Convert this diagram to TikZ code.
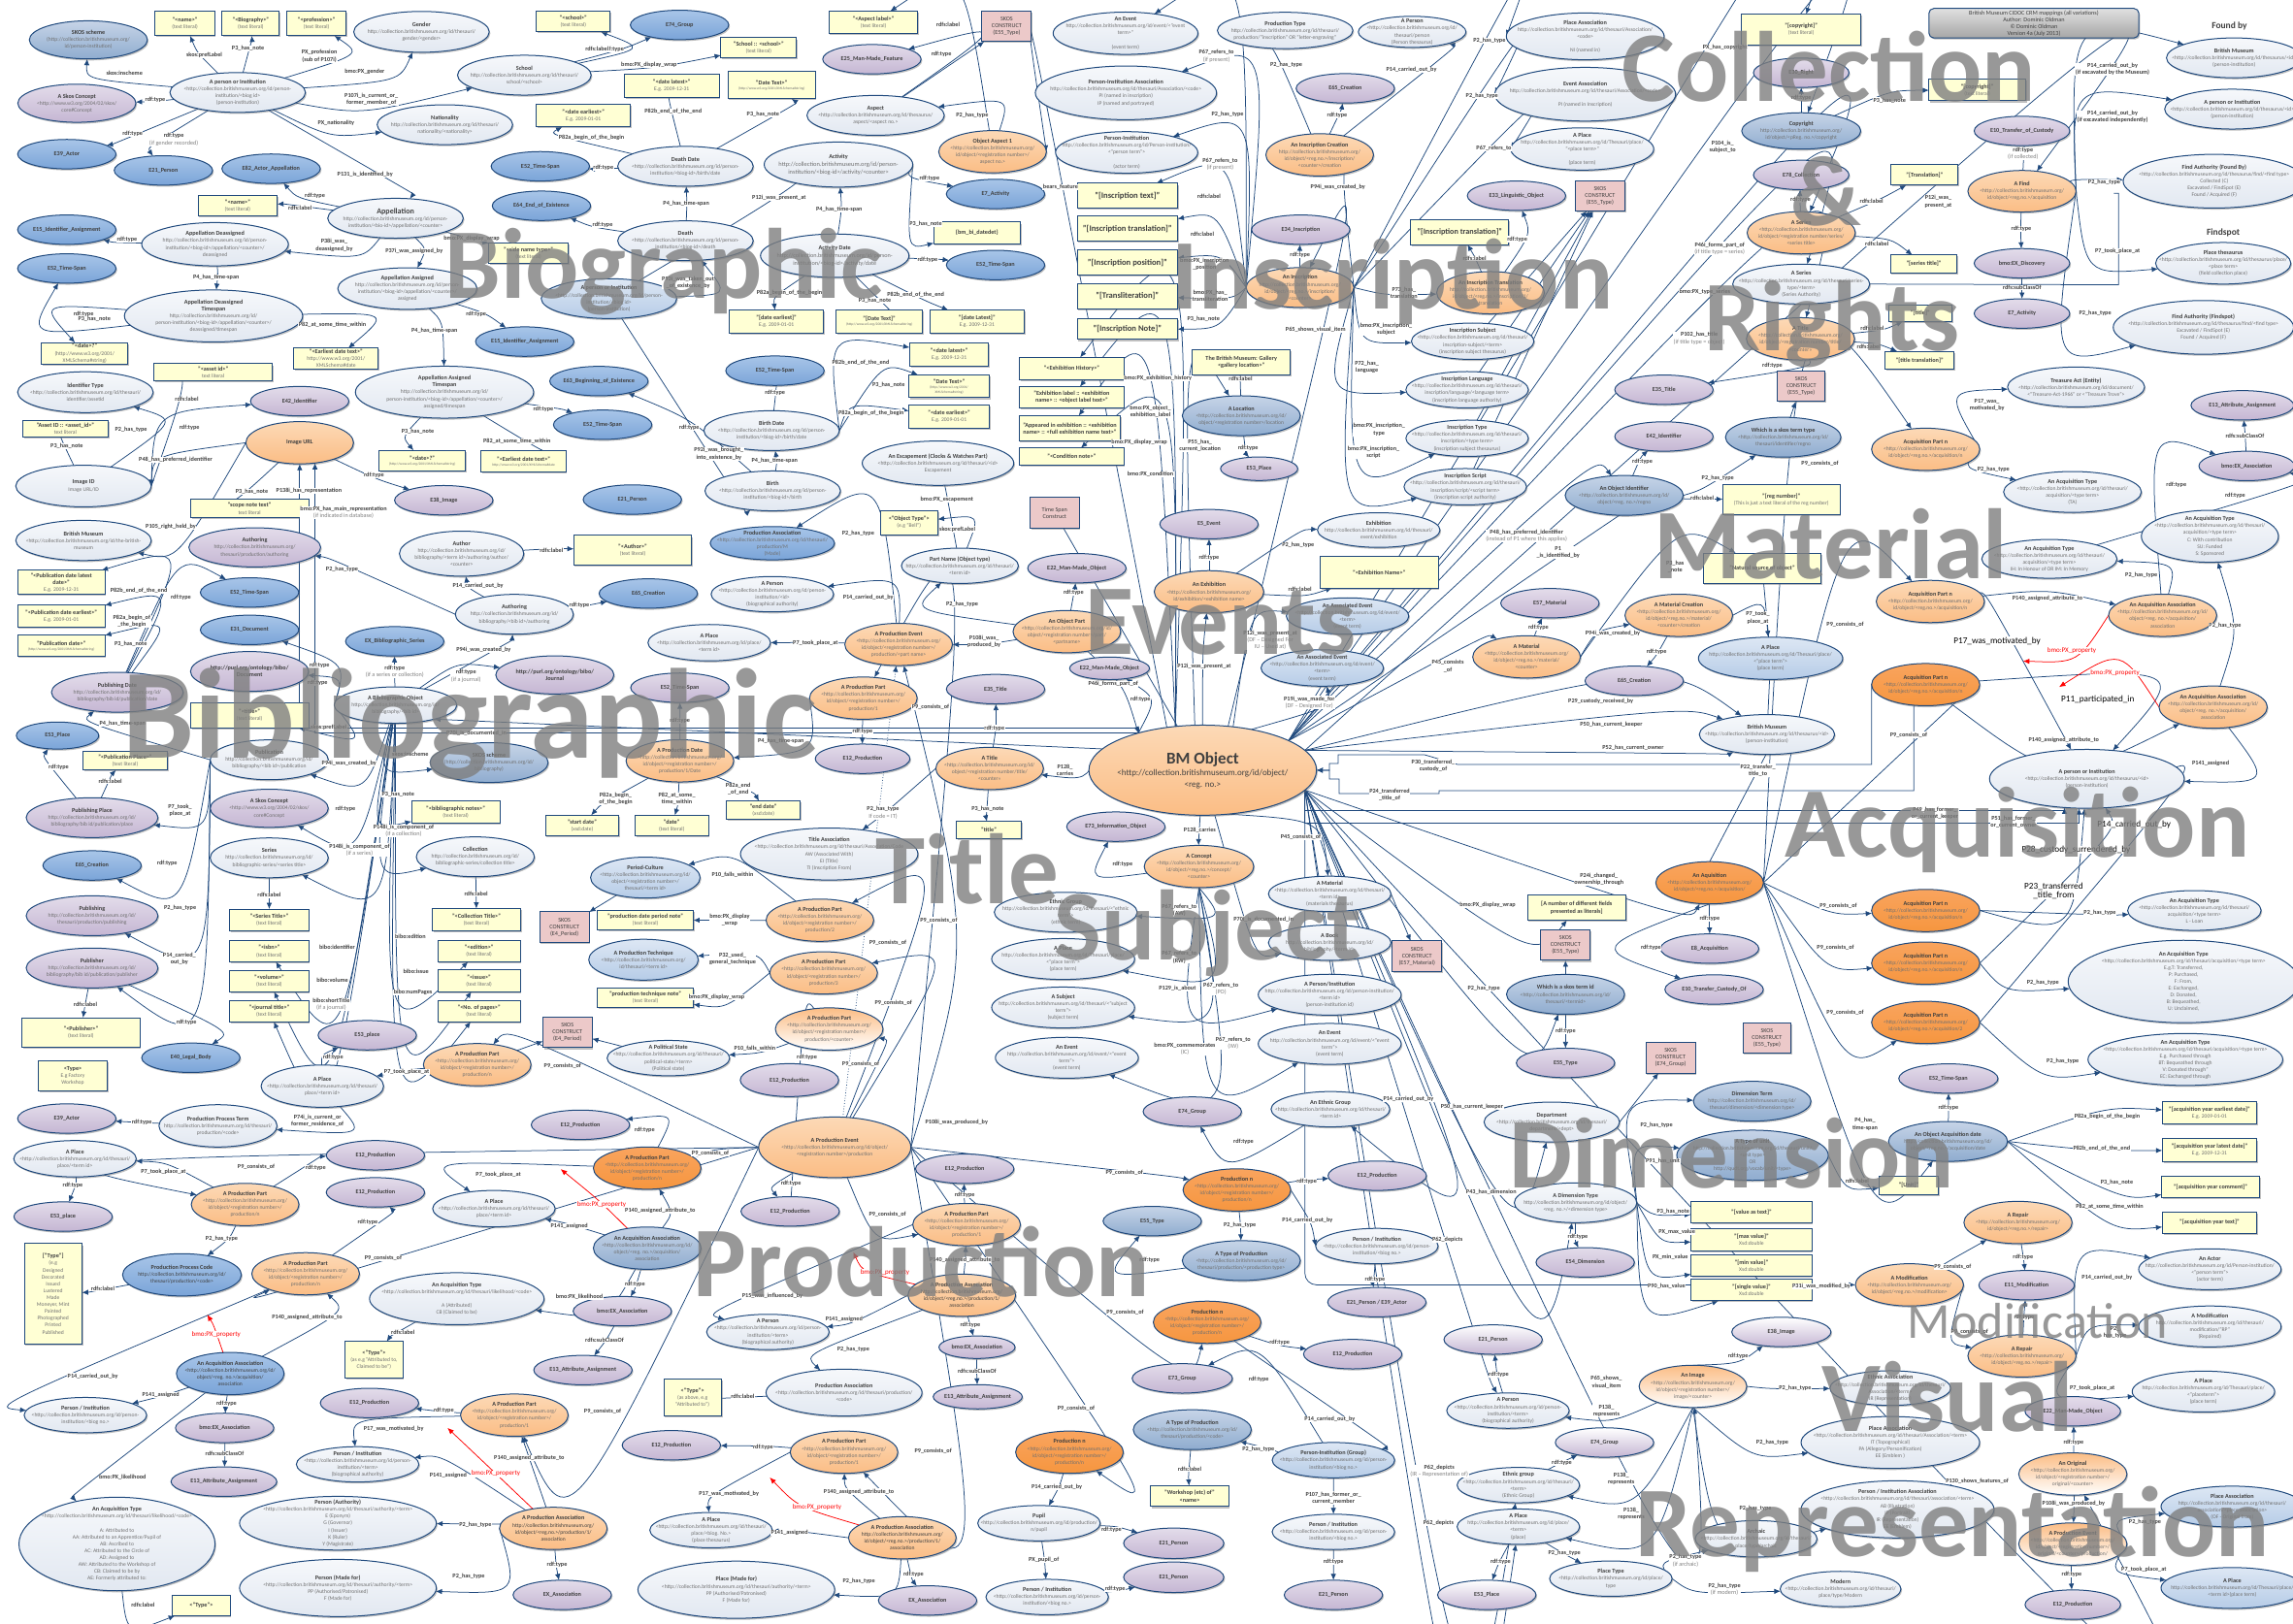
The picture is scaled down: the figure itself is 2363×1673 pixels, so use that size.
\documentclass[tikz,border=0pt]{standalone}
\usepackage{fontspec}
\setmainfont{Carlito}
\usetikzlibrary{shapes.geometric,arrows.meta,calc,shadows}
\definecolor{lc}{HTML}{1F497D}\definecolor{tt}{HTML}{404040}\definecolor{bt}{HTML}{707070}
\definecolor{wt}{HTML}{F6F8FB}\definecolor{wb}{HTML}{E2E8F1}
\definecolor{lbt}{HTML}{DDE7F4}\definecolor{lbb}{HTML}{B6CCE7}
\definecolor{blt}{HTML}{A8C5E8}\definecolor{blb}{HTML}{7AA4D8}
\definecolor{gbt}{HTML}{C6D4E7}\definecolor{gbb}{HTML}{8FACCF}
\definecolor{put}{HTML}{E3DCEA}\definecolor{pub}{HTML}{C5B6D3}
\definecolor{ort}{HTML}{FCD9B6}\definecolor{orb}{HTML}{FBBD85}
\definecolor{dot}{HTML}{F9A45E}\definecolor{dob}{HTML}{F6963F}
\definecolor{lyc}{HTML}{FFFFD4}\definecolor{pkc}{HTML}{ECC9C9}\definecolor{wmc}{HTML}{7F7F7F}
\pgfdeclarelayer{edges}\pgfdeclarelayer{wm}\pgfsetlayers{edges,main,wm}
\tikzset{
 nd/.style={draw=lc,line width=1pt,inner sep=0pt,outer sep=0pt,drop shadow={shadow xshift=1.2pt,shadow yshift=-1.6pt,opacity=.45,fill=black!55}},
 wh/.style={ellipse,top color=wt,bottom color=wb},
 lb/.style={ellipse,top color=lbt,bottom color=lbb},
 bl/.style={ellipse,top color=blt,bottom color=blb},
 gb/.style={ellipse,top color=gbt,bottom color=gbb},
 pu/.style={ellipse,top color=put,bottom color=pub},
 lp/.style={ellipse,top color=white,bottom color=pub},
 or/.style={ellipse,top color=ort,bottom color=orb},
 do/.style={ellipse,top color=dot,bottom color=dob},
 lo/.style={ellipse,top color=orb,bottom color=white},
 ly/.style={rectangle,fill=lyc},
 pk/.style={rectangle,fill=pkc},
 gy/.style={rectangle,rounded corners=5pt,top color=black!12,bottom color=black!35},
 txt/.style={inner sep=0pt},
 lab/.style={font=\fontsize{6.2}{7.2}\selectfont\bfseries,text=tt,fill=white,inner sep=.5pt,align=center},
 lnk/.style={draw=lc,line width=.75pt,-{Latex[length=6.5pt,width=5.5pt]}},
 rdl/.style={lnk,draw=red},
 wmk/.style={text=wmc,text opacity=.8,inner sep=0pt,anchor=base,font=\fontsize{103}{103}\selectfont\bfseries}
}
\newcount\lkc
\def\edgelist{}
\def\Ub{http://collection.britishmuseum.org/}
\def\Tf{\fontsize{6.2}{7.1}\selectfont\bfseries\color{tt}}
\def\Bf{\fontsize{5.6}{7.1}\selectfont\mdseries\color{bt}}
\newcommand\Nd[8]{\node[nd,#2,minimum width={#5/\kx*1pt},minimum height={#6/2.8*1pt}] (#1) at (#3,#4) {};
 \node[txt] (#1t) at (#1) {\parbox{500pt}{\centering\Tf #7\\\Bf #8}};}
\newcommand\Nc[7]{\node[nd,#2,minimum width={#5/\kx*1pt},minimum height={#6/2.8*1pt}] (#1) at (#3,#4) {};
 \node[txt] (#1t) at (#1) {\parbox{500pt}{\centering\Tf #7}};}
\newcommand\Cl[5]{\Nc{#1}{#2}{#3}{#4}{265}{85}{#5}}
\newcommand\Sk[4]{\Nd{#1}{pk}{#2}{#3}{133}{88}{\mdseries SKOS\\CONSTRUCT\\(#4)}{}}
\newcommand\Dq[4]{\draw[lnk,#1] (#2) .. controls ($2*(L#4)-0.5*(#2)-0.5*(#3)$) .. (#3);}
\newcommand\Dl[3]{\draw[lnk,#1] (#2) to (#3);}
\newcommand\Lk[6][]{\global\advance\lkc by 1
 \node[lab] (L\the\lkc) at (#4,#5) {#6};
 \xdef\edgelist{\unexpanded\expandafter{\edgelist}\noexpand\Dq{\unexpanded{#1}}{\unexpanded{#2}}{\unexpanded{#3}}{\the\lkc}}}
\newcommand\Ln[3][]{\xdef\edgelist{\unexpanded\expandafter{\edgelist}\noexpand\Dl{\unexpanded{#1}}{\unexpanded{#2}}{\unexpanded{#3}}}}
\newcommand\gyt[1]{{\mdseries\color{gray}#1}}
\newcommand\bgt[1]{{\fontsize{9.2}{11}\selectfont\mdseries\color{black}#1}}
\newcommand\rlt[1]{{\fontsize{7}{8}\selectfont\mdseries\color{red}#1}}
\newcommand\Cr[4]{\def\kx{#3}\begin{scope}[shift={(#1pt,-#2pt)},x=#4,y=-.3571pt]}
\def\CA{\Cr{0}{0}{2.613}{.3827pt}}\def\CB{\Cr{600}{0}{2.613}{.3827pt}}\def\CC{\Cr{1200}{0}{2.613}{.3827pt}}\def\CD{\Cr{1780}{0}{2.69}{.3717pt}}
\def\CE{\Cr{0}{560}{2.613}{.3827pt}}\def\CF{\Cr{600}{560}{2.613}{.3827pt}}\def\CG{\Cr{1200}{560}{2.613}{.3827pt}}\def\CH{\Cr{1780}{560}{2.69}{.3717pt}}
\def\CI{\Cr{0}{1113}{2.613}{.3827pt}}\def\CJ{\Cr{600}{1113}{2.613}{.3827pt}}\def\CK{\Cr{1200}{1113}{2.613}{.3827pt}}\def\CM{\Cr{1780}{1113}{2.69}{.3717pt}}
\def\PP#1{<\Ub\\id/object/<registration number>/\\production/#1}
\def\AP#1{<\Ub\\id/object/<reg.no.>/acquisition/#1}
\def\AS{<\Ub id/\\object/<reg. no.>/acquisition/\\association}
\def\PA{\Ub\\id/object/<reg.no.>/production/1/\\association}
\def\PB{<\Ub id/person-\\institution/<biog no.>}
\def\PC{<\Ub id/person-\\institution/<term>\\(biographical authority)}
\def\TL{(text literal)}
\catcode`\_=12
\begin{document}
\begin{tikzpicture}[x=1pt,y=-1pt]
\useasboundingbox (0,0) rectangle (2363,1673);
%% ---- nodes
\CA
\Nd{aSkos}{gb}{238}{115}{318}{110}{SKOS scheme}{(\Ub\\id/person-institution)}
\Nd{aName}{ly}{498}{68}{160}{70}{"<name>"}{\TL}
\Nd{aBio}{ly}{675}{68}{155}{70}{"<Biography>"}{\TL}
\Nd{aProf}{ly}{852}{68}{160}{70}{"<profession>"}{\TL}
\Nd{aGen}{wh}{1135}{92}{365}{118}{Gender}{\Ub id/thesauri/\\gender/<gender>}
\Nd{aSch}{wh}{1412}{217}{360}{115}{School}{\Ub id/thesauri/\\school/<school>}
\Nd{aNat}{wh}{1198}{360}{365}{115}{Nationality}{\Ub id/thesauri/\\nationality/<nationality>}
\Nd{aP}{wh}{640}{267}{365}{115}{A person or Institution}{<\Ub id/person-\\institution/<biog id>\\(person-institution)}
\Nd{aCon}{pu}{207}{298}{318}{110}{A Skos Concept}{<http://www.w3.org/2004/02/skos/\\core\#Concept}
\Cl{aAct}{bl}{180}{445}{E39_Actor}
\Cl{aPer}{bl}{440}{492}{E21_Person}
\Cl{aE82}{bl}{730}{487}{E82_Actor_Appellation}
\Cl{aE52}{bl}{1455}{480}{E52_Time-Span}
\Cl{aE64}{bl}{1458}{594}{E64_End_of_Existence}
\Nd{aApp}{wh}{1065}{630}{365}{115}{\fontsize{8}{9}\selectfont Appellation}{\Ub id/person-\\institution/<bio-id>/appellation/<counter>}
\Nd{aNm}{ly}{640}{593}{213}{58}{"<name>"}{\TL}
\Cl{aE15}{bl}{180}{663}{E15_Identifier_Assignment}
\Nd{aDe}{wh}{579}{705}{395}{125}{Appellation Deassigned}{\Ub id/person-\\institution/<biog-id>/appellation/<counter>/\\deassigned}
\Cl{aTS}{bl}{180}{775}{E52_Time-Span}
\Nd{aSide}{ly}{1423}{731}{213}{60}{"<side name type>"}{\TL}
\Nd{aAs}{wh}{1097}{833}{375}{120}{Appellation Assigned}{\Ub id/person-\\institution/<biog-id>/appellation/<counter>/\\assigned}
\Nd{aDT}{wh}{575}{912}{480}{150}{Appellation Deassigned\\Timespan}{\Ub id/\\person-institution/<biog-id>/appellation/<counter>/\\deassigned/timespan}
\Nd{aDate}{ly}{228}{1020}{232}{62}{"<date>?"}{(http://www.w3.org/2001/\\XMLSchema\#string)}
\Nd{aEar}{ly}{905}{1035}{228}{60}{"<Earliest date text>"}{http://www.w3.org/2001/\\XMLSchema\#date}
\Cl{aE15b}{bl}{1413}{986}{E15_Identifier_Assignment}
\Nd{aAid}{ly}{574}{1075}{318}{50}{"<asset id>"}{text literal}
\Nd{aIT}{wh}{230}{1132}{365}{118}{Identifier Type}{<\Ub id/thesauri/\\identifier/assetid}
\Nd{aAsset}{ly}{176}{1238}{230}{48}{"Asset ID :: <asset_id>"}{text literal}
\Cl{aE42}{pu}{807}{1158}{E42_Identifier}
\Nd{aAT}{wh}{1197}{1132}{480}{150}{Appellation Assigned\\Timespan}{\Ub id/\\person-institution/<biog-id>/appellation/<counter>/\\assigned/timespan}
\Nc{aURL}{or}{807}{1278}{290}{122}{Image URL}
\Nd{aIid}{wh}{225}{1403}{365}{120}{Image ID}{Image URL/ID}
\Nd{aDate2}{ly}{1137}{1330}{232}{60}{"<date>?"}{\fontsize{3.6}{5}\selectfont (http://www.w3.org/2001/XMLSchema\#string)}
\Nd{aEar2}{ly}{1410}{1332}{228}{60}{"<Earliest date text>"}{\fontsize{3.6}{5}\selectfont http://www.w3.org/2001/XMLSchema\#date}
\Cl{aE38}{pu}{1195}{1444}{E38_Image}
\Nd{aNote}{ly}{672}{1468}{318}{52}{"scope note text"}{text literal}
\Nd{aBri}{wh}{225}{1560}{365}{116}{British Museum}{<\Ub id/the-british-\\museum}
\Nd{aTh}{pu}{686}{1580}{355}{113}{Authoring}{\Ub\\thesauri/production/authoring}
\end{scope}
\CB
\Nd{bSchL}{ly}{-24}{62}{198}{60}{"<school>"}{\TL}
\Cl{bE74}{bl}{262}{72}{E74_Group}
\Nd{bSchW}{ly}{475}{138}{203}{58}{"School :: <school>"}{\TL}
\Nd{bLabA}{ly}{784}{65}{240}{65}{"<Aspect label>"}{\TL}
\Sk{bSK}{1143}{76}{E55_Type}
\Cl{bE25}{pu}{780}{171}{E25_Man-Made_Feature}
\Nd{bEvent}{wh}{1463}{96}{390}{122}{An Event}{\Ub id/event/<"event\\term>"\\\mbox{}\\(event term)}
\Nd{bLate}{ly}{241}{248}{255}{66}{"<date latest>"}{E.g. 2009-12-31}
\Nd{bDT}{ly}{510}{246}{235}{78}{"Date Text>"}{\fontsize{3.6}{5}\selectfont (http://www.w3.org/2001/XMLSchema\#string)}
\Nd{bEarl}{ly}{3}{333}{253}{66}{"<date earliest>"}{E.g. 2009-01-01}
\Nd{bAspect}{wh}{790}{333}{370}{115}{Aspect}{<\Ub id/thesaurus/\\aspect/<aspect no.>}
\Nd{bPIA}{wh}{1464}{268}{488}{155}{Person-Institution Association}{\Ub id/thesauri/Association/<code>\\PI (named in inscription)\\IP (named and portrayed)}
\Nd{bOA}{or}{1105}{438}{290}{122}{Object Aspect 1}{<\Ub\\id/object/<registration number>/\\aspect no.>}
\Nd{bDD}{wh}{278}{480}{365}{115}{Death Date}{<\Ub id/person-\\institution/<biog-id>/birth/date}
\Nd{bAct}{wh}{690}{475}{400}{130}{Activity}{\fontsize{6.4}{8}\selectfont \Ub id/person-\\institution/<biog-id>/activity/<counter>}
\Nd{bPIn}{wh}{1466}{440}{383}{120}{Person-Institution}{\Ub id/Person-institution/\\<"person term">\\\mbox{}\\(actor term)}
\Cl{bE21}{bl}{135}{1442}{E21_Person}
\Cl{bE7}{bl}{1113}{560}{E7_Activity}
\Nc{bTxt}{ly}{1468}{565}{270}{72}{\fontsize{8.6}{10}\selectfont"[Inscription text]"}
\Nc{bTra}{ly}{1468}{660}{270}{72}{\fontsize{8.6}{10}\selectfont"[Inscription translation]"}
\Nc{bPos}{ly}{1468}{758}{270}{72}{\fontsize{8.6}{10}\selectfont"[Inscription position]"}
\Nc{bLit}{ly}{1468}{855}{270}{72}{\fontsize{8.6}{10}\selectfont"[Transliteration]"}
\Nc{bIN}{ly}{1468}{950}{270}{60}{\fontsize{8.6}{10}\selectfont"[Inscription Note]"}
\Nd{bD}{wh}{278}{695}{365}{115}{Death}{<\Ub id/person-\\institution/<biog-id>/death}
\Nc{bDet}{ly}{1063}{672}{233}{62}{\{bm_bi_datedet\}}
\Nd{bPI}{lb}{72}{862}{365}{115}{A person or Institution}{<\Ub id/person-\\institution/<biog id>\\(person-institution)}
\Nd{bAD}{wh}{680}{738}{400}{125}{Activity Date}{\fontsize{6.2}{8}\selectfont \Ub id/person-\\institution/<biog-id>/activity/date}
\Cl{bE52}{bl}{1113}{765}{E52_Time-Span}
\Nd{bDE}{ly}{523}{928}{255}{66}{"[date earliest]"}{E.g. 2009-01-01}
\Nd{bDTx}{ly}{800}{928}{233}{66}{"[Date Text]"}{\fontsize{3.6}{5}\selectfont (http://www.w3.org/2001/XMLSchema\#string)}
\Nd{bDL}{ly}{1063}{928}{255}{66}{"[date Latest]"}{E.g. 2009-12-31}
\Nc{bEH}{ly}{1318}{1064}{280}{65}{"<Exhibition History>"}
\Nd{bbL}{ly}{988}{1023}{213}{66}{"<date latest>"}{E.g. 2009-12-31}
\Nd{bbT}{ly}{988}{1115}{218}{66}{"Date Text>"}{\fontsize{3.6}{5}\selectfont (http://www.w3.org/2001/\\XMLSchema\#string)}
\Nd{bbE}{ly}{988}{1202}{218}{66}{"<date earliest>"}{E.g. 2009-01-01}
\Cl{bE52c}{bl}{519}{1070}{E52_Time-Span}
\Nc{bEL}{ly}{1318}{1147}{280}{62}{"Exhibition label :: <exhibition\\name> :: <object label text>"}
\Nc{bAE}{ly}{1313}{1236}{273}{72}{"Appeared in exhibition :: <exhibition\\name> :: <full exhibition name text>"}
\Nc{bCN}{ly}{1318}{1318}{280}{50}{"<Condition note>"}
\Cl{bE63}{bl}{45}{1100}{E63_Beginning_of_Existence}
\Cl{bE52d}{bl}{55}{1226}{E52_Time-Span}
\Nd{bBD}{wh}{510}{1243}{365}{115}{Birth Date}{<\Ub id/person-\\institution/<biog-id>/birth/date}
\Nd{bB}{wh}{513}{1417}{365}{115}{Birth}{<\Ub id/person-\\institution/<biog-id>/birth}
\Nd{bEsc}{wh}{958}{1337}{408}{128}{An Escapement (Clocks \& Watches Part)}{<\Ub id/thesauri/<id>\\Escapement}
\Nd{bOT}{ly}{880}{1508}{155}{70}{<"Object Type">}{(e.g "Bell")}
\Nd{bTS}{pk}{1272}{1480}{133}{88}{\mdseries Time Span\\Construct}{}
\Nd{bPA}{bl}{512}{1568}{335}{96}{Production Association}{<\Ub id/thesauri/\\production/M\\(Made)}
\end{scope}
\CC
\Nd{cPT}{wh}{325}{88}{365}{105}{Production Type}{\Ub id/thesauri/\\production/"inscription" OR "letter-engraving"}
\Nd{cPer}{wh}{667}{92}{290}{90}{A Person}{<\Ub id/\\thesauri/person\\(Person thesaurus)}
\Nd{cPA}{wh}{1133}{105}{425}{135}{Place Association}{\Ub id/thesauri/Association/\\<code>\\\mbox{}\\NI (named in)}
\Cl{cE65}{pu}{487}{255}{E65_Creation}
\Nd{cEA}{wh}{1133}{272}{487}{155}{Event Association}{\Ub id/thesauri/Association/<code>\\\mbox{}\\PI (named in Inscription)}
\Nd{cCr}{or}{418}{447}{290}{122}{An Inscription Creation}{\Ub\\id/object/<reg.no.>/inscription/\\<counter>/creation}
\Nd{cPl}{wh}{1125}{430}{385}{122}{A Place}{\Ub id/Thesauri/place/\\"<place term>"\\\mbox{}\\(place term)}
\Cl{cE33}{pu}{948}{565}{E33_Linguistic_Object}
\Sk{cSK}{1173}{565}{E55_Type}
\Cl{cE34}{pu}{367}{663}{E34_Inscription}
\Nc{cTrL}{ly}{795}{670}{265}{72}{\fontsize{8.2}{10}\selectfont"[Inscription translation]"}
\Nd{cIns}{or}{365}{830}{290}{115}{An Inscription}{\Ub\\id/object/<reg.no.>/inscription/\\<counter>}
\Nd{cTr}{or}{878}{845}{290}{122}{An Inscription Translation}{\Ub\\id/object/<reg.no.>/inscription/1/\\translation}
\Nd{cSub}{wh}{830}{985}{330}{105}{Inscription Subject}{<\Ub id/thesauri/\\inscription-subject/<term>\\(inscription subject thesaurus)}
\Nd{cLan}{wh}{815}{1125}{330}{105}{Inscription Language}{<\Ub id/thesauri/\\inscription/language/<language term>\\(inscription language authority)}
\Nd{cTyp}{wh}{815}{1265}{330}{105}{Inscription Type}{<\Ub id/thesauri/\\inscription/<type term>\\(inscription subject thesaurus)}
\Nd{cScr}{wh}{810}{1405}{330}{105}{Inscription Script}{<\Ub id/thesauri/\\inscription/script/<script term>\\(inscription script authority)}
\Nc{cGal}{ly}{207}{1045}{265}{72}{The British Museum: Gallery\\<gallery location>"}
\Nd{cLoc}{gb}{207}{1200}{318}{115}{A Location}{<\Ub id/\\object/<registration number>/location}
\Nc{cE53}{pu}{255}{1353}{208}{68}{E53_Place}
\Cl{cE35}{pu}{1345}{1125}{E35_Title}
\Cl{cE42}{pu}{1345}{1260}{E42_Identifier}
\Nd{cOI}{gb}{1238}{1430}{318}{115}{An Object Identifier}{<\Ub id/\\object/<reg. no.>/regno}
\Cl{cE5}{pu}{120}{1513}{E5_Event}
\Nd{cExh}{wh}{577}{1530}{330}{100}{Exhibition}{\Ub id/thesauri/\\event/exhibition}
\end{scope}
\CD
\Nd{dCoL}{ly}{205}{85}{330}{88}{"[copyright]"}{\TL}
\Nd{dBox}{gy}{850}{67}{582}{85}{\mdseries British Museum CIDOC CRM mappings (all variations)\\Author: Dominic Oldman\\© Dominic Oldman\\Version 4a (July 2013)}{}
\node[txt,font=\fontsize{9.5}{11}\selectfont\bfseries,text=tt] (dFB) at (1392,75) {Found by};
\node[txt,font=\fontsize{9.5}{11}\selectfont\bfseries,text=tt] (dFS) at (1375,672) {Findspot};
\Nd{dBM}{wh}{1405}{167}{375}{115}{British Museum}{<\Ub id/thesaurus/<id>\\(person-institution)}
\Cl{dE30}{pu}{205}{210}{E30_Right}
\Nd{dCo2}{ly}{693}{260}{268}{62}{"[copyright]"}{\TL}
\Nd{dPI}{wh}{1400}{315}{375}{115}{A person or Institution}{<\Ub id/thesaurus/<id>\\(person-institution)}
\Nd{dCop}{gb}{205}{378}{330}{105}{Copyright}{\Ub\\id/object/<pReg. no.>/copyright}
\Cl{dE10}{pu}{817}{378}{E10_Transfer_of_Custody}
\Cl{dE78}{pu}{205}{505}{E78_Collection}
\Nc{dTr}{ly}{547}{505}{185}{58}{"[Translation]"}
\Nd{dF}{or}{817}{552}{300}{120}{A Find}{<\Ub\\id/object/<reg.no.>/acquisition}
\Nd{dAuth}{wh}{1350}{523}{505}{155}{Find Authority (Found By)}{<\Ub id/thesaurus/find/<find type>\\Collected (C)\\Excavated / FindSpot (E)\\Found / Acquired (F)}
\Nd{dSer}{or}{205}{672}{300}{122}{A Series}{<\Ub\\id/object/<registration number/series/\\<series title>}
\Nc{dST}{ly}{545}{762}{185}{52}{"[series title]"}
\Cl{dDis}{pu}{817}{760}{bmo:EX_Discovery}
\Nd{dSt}{wh}{205}{820}{380}{115}{A Series}{<\Ub id/thesauri/series-\\type/<term>\\(Series Authority)}
\Nd{dPl}{wh}{1375}{760}{375}{120}{Place thesaurus}{<\Ub id/thesaurus/place/\\<place term>\\(field collection place)}
\Cl{dE7}{pu}{817}{905}{E7_Activity}
\Nd{dT}{or}{203}{978}{300}{122}{A Title}{<\Ub\\id/object/<registration number/title/\\<counter>>}
\Nc{dTi}{ly}{535}{905}{175}{46}{"[title]"}
\Nd{dAF}{wh}{1320}{945}{500}{155}{Find Authority (Findspot)}{<\Ub id/thesaurus/find/<find type>\\Excavated / FindSpot (E)\\Found / Acquired (F)}
\Nc{dTT}{ly}{533}{1040}{192}{52}{"[title translation]"}
\Sk{dSK}{205}{1115}{E55_Type}
\Nd{dTA}{wh}{967}{1117}{380}{115}{Treasure Act (Entity)}{<\Ub id/document/\\<"Treasure-Act-1966" or <"Treasure Trove">}
\Nc{dE13}{pu}{1428}{1170}{285}{85}{E13_Attribute_Assignment}
\Nd{dWhich}{gb}{155}{1262}{320}{115}{Which is a skos term type}{<\Ub id/\\thesauri/identifier/regno}
\Nd{dA1}{or}{550}{1297}{300}{122}{Acquisition Part n}{\AP{n}}
\Cl{dEXA}{pu}{1440}{1345}{bmo:EX_Association}
\Nd{dReg}{ly}{150}{1442}{325}{88}{"[reg number]"}{(This is just a text literal of the reg number)}
\Nd{dTAa}{wh}{957}{1420}{382}{118}{An Acquisition Type}{<\Ub id/thesauri/\\acquisition/<type term>\\(TA)}
\Nd{dTC}{wh}{1338}{1548}{380}{150}{An Acquisition Type}{<\Ub id/thesauri/\\acquisition/<type term>\\C: With contribution\\SU: Funded\\S: Sponsored}
\end{scope}
\CE
\Nd{eAu}{wh}{1243}{30}{335}{130}{Author}{\Ub id/\\bibliography/<term id>/authoring/author/\\<counter>}
\Nd{ePL}{ly}{165}{113}{235}{70}{"<Publication date latest\\date>"}{E.g. 2009-12-31}
\Cl{eE52}{bl}{672}{142}{E52_Time-Span}
\Nd{ePE}{ly}{165}{210}{235}{66}{"<Publication date earliest>"}{E.g. 2009-01-01}
\Cl{eE31}{bl}{672}{250}{E31_Document}
\Nd{ePT}{ly}{165}{296}{235}{62}{"Publication date>"}{\fontsize{3.6}{5}\selectfont (http://www.w3.org/2001/XMLSchema\#string)}
\Cl{eSer}{bl}{1063}{283}{EX_Bibliographic_Series}
\Nd{eAuth}{wh}{1385}{205}{318}{115}{Authoring}{\Ub id/\\bibliography/<bib id>/authoring}
\Nc{eDoc}{pu}{672}{370}{318}{115}{http://purl.org/ontology/bibo/\\Document}
\Nc{eJ}{pu}{1494}{380}{318}{110}{http://purl.org/ontology/bibo/\\Journal}
\Nd{ePD}{pu}{316}{430}{355}{115}{Publishing Date}{\Ub id/\\bibliography/bib id/publication/date}
\Nd{eBib}{wh}{1065}{467}{330}{105}{A Bibliographic Object}{\Ub id/\\bibliography/<bib id>}
\Nd{eTi}{ly}{672}{497}{318}{72}{"<title>"}{\TL}
\Nc{eE53}{bl}{155}{555}{222}{78}{E53_Place}
\Nd{ePP}{ly}{337}{627}{228}{55}{"<Publication Place>"}{\TL}
\Nd{ePub}{wh}{725}{625}{318}{115}{Publication}{\Ub id/\\bibliography/<bib id>/publication}
\Nd{eSk}{gb}{1317}{633}{318}{115}{SKOS scheme}{(\Ub id/\\bibliography)}
\Nd{eCon}{pu}{725}{765}{318}{110}{A Skos Concept}{<http://www.w3.org/2004/02/skos/\\core\#Concept}
\Nd{ePlc}{pu}{248}{792}{355}{115}{Publishing Place}{\Ub id/\\bibliography/bib id/publication/place}
\Nd{eNote}{ly}{1227}{775}{238}{65}{"<bibliographic notes>"}{\TL}
\Nd{eSeries}{wh}{725}{908}{318}{115}{Series}{\Ub id/\\bibliographic-series/<series title>}
\Nd{eColl}{wh}{1280}{905}{318}{115}{Collection}{\Ub id/\\bibliographic-series/collection title>}
\Cl{eE65}{bl}{248}{930}{E65_Creation}
\Nd{ePbg}{pu}{248}{1075}{355}{115}{Publishing}{\Ub id/\\thesauri/production/publishing}
\Nd{eST}{ly}{725}{1087}{212}{62}{"<Series Title>"}{\TL}
\Nd{eCT}{ly}{1283}{1087}{238}{65}{"<Collection Title>"}{\TL}
\Sk{eSK1}{1520}{1108}{E4_Period}
\Nd{eIs}{ly}{725}{1178}{212}{60}{"<isbn>"}{\TL}
\Nd{eEd}{ly}{1290}{1177}{222}{62}{"<edition>"}{\TL}
\Nd{ePbr}{pu}{248}{1226}{355}{115}{Publisher}{\Ub id/\\bibliography/bib id/publication/publisher}
\Nd{eVo}{ly}{725}{1264}{212}{60}{"<volume>"}{\TL}
\Nd{eIss}{ly}{1290}{1263}{222}{62}{"<issue>"}{\TL}
\Nd{eJt}{ly}{725}{1350}{212}{62}{"<journal title>"}{\TL}
\Nd{ePg}{ly}{1290}{1350}{222}{62}{"<No. of pages>"}{\TL}
\Nd{ePu}{ly}{218}{1412}{318}{85}{"<Publisher>"}{\TL}
\Sk{eSK2}{1528}{1412}{E4_Period}
\Cl{eE53p}{pu}{989}{1420}{E53_place}
\Cl{eE40}{bl}{514}{1485}{E40_Legal_Body}
\Nd{ePrt}{or}{1285}{1505}{290}{122}{A Production Part}{\PP{n}}
\Nd{eA}{wh}{868}{1567}{330}{122}{A Place}{<\Ub id/thesauri/\\place/<term id>}
\Nd{eType}{ly}{196}{1537}{185}{85}{<Type>}{E.g Factory\\Workshop}
\end{scope}
\CF
\Nd{fAut}{ly}{136}{20}{318}{85}{"<Author>"}{\TL}
\Nd{fPer}{wh}{512}{147}{330}{102}{A Person}{<\Ub id/person-\\institution/<id>\\(biographical authority)}
\Cl{fE65}{bl}{178}{145}{E65_Creation}
\Nd{fPN}{wh}{1017}{65}{315}{102}{Part Name (Object type)}{\Ub id/thesauri/\\<term id>}
\Cl{fE22}{pu}{1332}{72}{E22_Man-Made_Object}
\Nd{fOP}{or}{1305}{255}{290}{122}{An Object Part}{<\Ub id/\\object/<registration number>/part/\\<partname>}
\Nd{fPl}{wh}{342}{287}{330}{105}{A Place}{<\Ub id/place/\\<term id>}
\Nd{fPE}{or}{852}{292}{290}{122}{A Production Event}{\PP{<part name>}}
\Nc{fE22b}{pu}{1420}{361}{215}{65}{E22_Man-Made_Object}
\Cl{fE52}{pu}{263}{417}{E52_Time-Span}
\Cl{fE35}{pu}{1113}{421}{E35_Title}
\Nd{fPP1}{or}{757}{447}{290}{122}{A Production Part}{\PP{1}}
\Nd{fPD}{or}{263}{628}{290}{122}{A Production Date}{\PP{1/Date}}
\Nc{fE12}{pu}{755}{622}{255}{85}{E12_Production}
\Nd{fT}{or}{1097}{650}{290}{122}{A Title}{<\Ub id/\\object/<registration number/title/\\<counter>>}
\Cl{fE73}{pu}{1437}{818}{E73_Information_Object}
\Nd{fED}{ly}{488}{770}{198}{52}{"end date"}{(xsd:date)}
\Nd{fSD}{ly}{0}{815}{198}{60}{"start date"}{(xsd:date)}
\Nd{fDt}{ly}{241}{815}{198}{60}{"date"}{\TL}
\Nc{fTxt}{ly}{1095}{828}{175}{50}{"title"}
\Nd{fTA}{wh}{665}{897}{478}{150}{Title Association}{<\Ub id/thesauri/Association/Code\\AW (Associated With)\\EI (Title)\\TI (Inscription From)}
\Nd{fPC}{lb}{170}{965}{295}{118}{Period-Culture}{<\Ub id/\\object/<registration number>/\\thesauri/<term id>}
\Nd{fEG}{wh}{1302}{1065}{385}{115}{Ethnic Group}{\Ub id/thesauri/<"ethnic\\term">\\(ethnic term)}
\Nd{fNote}{ly}{170}{1087}{258}{56}{"production date period note"}{\TL}
\Nd{fPP2}{or}{640}{1088}{290}{122}{A Production Part}{\PP{2}}
\Nd{fTech}{lb}{165}{1202}{295}{118}{A Production Technique}{<\Ub\\id/thesauri/<term id>}
\Nd{fPlace}{wh}{1295}{1200}{385}{118}{A Place}{\Ub id/Thesauri/place/\\<"place term">\\(place term)}
\Nd{fPP3}{or}{650}{1240}{290}{122}{A Production Part}{\PP{3}}
\Nd{fTN}{ly}{170}{1312}{258}{56}{"production technique note"}{\TL}
\Nd{fSub}{wh}{1295}{1340}{385}{118}{A Subject}{\Ub id/thesauri/<"subject\\term">\\(subject term)}
\Nd{fPPc}{lo}{665}{1402}{290}{122}{A Production Part}{\PP{<counter>}}
\Nd{fEv}{wh}{1305}{1485}{385}{118}{An Event}{\Ub id/event/<"event\\term">\\(event term)}
\Nd{fPS}{wh}{232}{1486}{330}{102}{A Political State}{<\Ub id/thesauri/\\political-state/<term>\\(Political state)}
\end{scope}
\CG
\node[nd,or,minimum width={613/2.613*1pt},minimum height={260/2.8*1pt}] (bm) at (103,655) {};
\node[txt] (bmt) at (bm) {\parbox{400pt}{\centering\fontsize{17}{19}\selectfont\bfseries\color{tt} BM Object\\\fontsize{9}{12}\selectfont\mdseries <\Ub id/object/\\<reg. no.>}};
\Nc{gExN}{ly}{578}{84}{318}{90}{"<Exhibition Name>"}
\Nd{gEx}{or}{120}{140}{295}{122}{An Exhibition}{<\Ub\\id/exhibition/<exhibition name>}
\Nd{gAE1}{lb}{493}{210}{330}{105}{An Associated Event}{<\Ub id/event/\\<term>\\(event term)}
\Cl{gE57}{pu}{1038}{173}{E57_Material}
\Nd{gMC}{or}{1385}{208}{290}{122}{A Material Creation}{<\Ub\\id/object/<reg.no.>/material/\\<counter>/creation}
\Nd{gM}{or}{975}{328}{290}{122}{A Material}{<\Ub\\id/object/<reg.no.>/material/\\<counter>}
\Nd{gAE2}{lb}{425}{360}{330}{105}{An Associated Event}{<\Ub id/event/\\<term>\\(event term)}
\Cl{gE65}{pu}{1265}{397}{E65_Creation}
\Nd{gC}{or}{93}{933}{295}{122}{A Concept}{<\Ub\\id/object/<reg.no.>/concept/\\<counter>}
\Nd{gMat}{wh}{445}{1012}{330}{102}{A Material}{<\Ub id/thesauri/\\<term id>\\(materials thesaurus)}
\Nc{gDisp}{ly}{1110}{1052}{265}{72}{[A number of different fields\\presented as literals]}
\Nd{gAq}{do}{1468}{980}{290}{122}{An Aquisition}{\AP{}}
\Sk{gSK}{680}{1192}{E57_Material}
\Nd{gBook}{wh}{445}{1153}{330}{102}{A Book}{\Ub id/\\bibliography/<term id>}
\Sk{gSK2}{1080}{1160}{E55_Type}
\Cl{gE8}{pu}{1468}{1170}{E8_Acquisition}
\Nd{gWh}{gb}{1080}{1302}{318}{115}{Which is a skos term id}{<\Ub id/\\thesauri/<termid>}
\Cl{gE10}{pu}{1480}{1288}{E10_Transfer_Custody_Of}
\Nd{gPerI}{wh}{445}{1303}{385}{118}{A Person/Institution}{\Ub id/person-institution/\\<term id>\\(person-institution id)}
\Nd{gEv}{wh}{445}{1445}{385}{118}{An Event}{\Ub id/event/<"event\\term">\\(event term)}
\Cl{gE55}{pu}{1080}{1500}{E55_Type}
\Sk{gSK74}{1363}{1485}{E74_Group}
\end{scope}
\CH
\Nc{hNat}{ly}{97}{72}{327}{88}{"Natural source of object"}
\Nd{hPl}{lb}{120}{332}{400}{122}{A Place}{\Ub id/Thesauri/place/\\<"place term">\\(place term)}
\Nd{hBM}{wh}{110}{552}{375}{115}{British Museum}{<\Ub id/thesaurus/<id>\\(person-institution)}
\Nd{hAT}{wh}{893}{45}{375}{112}{An Acquisition Type}{<\Ub id/thesauri/\\acquisition/<type term>\\IH: In Honour of OR IM: In Memory}
\Nd{hA1}{or}{563}{168}{300}{122}{Acquisition Part n}{\AP{n}}
\Nd{hAs1}{or}{1207}{208}{300}{122}{An Acquisition Association}{\AS}
\Nd{hA2}{do}{550}{408}{300}{122}{Acquisition Part n}{\AP{n}}
\Nd{hAs2}{or}{1347}{473}{300}{122}{An Acquisition Association}{\AS}
\Nd{hPI}{wh}{997}{680}{540}{170}{A person or Institution}{<\Ub id/thesaurus/<id>\\(person-institution)}
\Nd{hA3}{do}{550}{1060}{300}{122}{Acquisition Part n}{\AP{n}}
\Nd{hTL}{wh}{1295}{1060}{370}{115}{An Acquisition Type}{<\Ub id/thesauri/\\acquisition/<type term>\\L - Loan}
\Nd{hA4}{do}{550}{1212}{300}{122}{Acquisition Part n}{\AP{n}}
\Nd{hTT}{wh}{1265}{1265}{640}{238}{An Acquisition Type}{<\Ub id/thesauri/acquisition/<type term>\\E.g.T: Transferred,\\P: Purchased,\\F: From,\\E: Exchanged,\\D: Donated,\\B: Bequeathed,\\U: Unclaimed,}
\Nd{hA5}{do}{550}{1383}{300}{122}{Acquisition Part n}{\AP{2}}
\Nd{hTP}{wh}{1270}{1490}{540}{150}{An Acquisition Type}{<\Ub id/thesauri/acquisition/<type term>\\E.g. Purchased through\\BT: Bequeathed through\\V: Donated through"\\EC: Exchanged through}
\Sk{hSK}{110}{1428}{E55_Type}
\Nc{hE52}{pu}{613}{1545}{275}{85}{E52_Time-Span}
\end{scope}
\CI
\Cl{iE39}{pu}{180}{112}{E39_Actor}
\Nd{iPT}{wh}{587}{133}{318}{122}{Production Process Term}{\Ub id/thesauri/\\production/<code>}
\Nd{iPl}{wh}{202}{228}{330}{105}{A Place}{<\Ub id/thesauri/\\place/<term id>}
\Cl{iE12a}{pu}{1011}{218}{E12_Production}
\Cl{iE53}{pu}{170}{395}{E53_place}
\Cl{iE12b}{pu}{1011}{325}{E12_Production}
\Nd{iPP1}{or}{660}{360}{290}{122}{A Production Part}{\PP{n}}
\Nd{iPl2}{wh}{1330}{372}{330}{105}{A Place}{<\Ub id/thesauri/\\place/<term id>}
\Cl{iE12t}{pu}{1563}{130}{E12_Production}
\Nd{iLit}{ly}{143}{618}{155}{290}{["Type"]}{(e.g\\Designed\\Decorated\\Issued\\Lustered\\Made\\Moneyer, Mint\\Painted\\Photographed\\Printed\\Published}
\Nd{iPC}{bl}{490}{563}{320}{122}{Production Process Code}{\color{tt}\Ub id/\\thesauri/production/<code>}
\Nd{iPP2}{or}{823}{560}{290}{122}{A Production Part}{\PP{n}}
\Nd{iAT2}{wh}{1230}{632}{470}{150}{An Acquisition Type}{<\Ub id/thesauri/likelihood/<code>\\\mbox{}\\A (Attributed)\\CB (Claimed to be)}
\Nd{iT2}{ly}{1007}{808}{155}{105}{<"Type">}{(as e.g "Attributed to,\\Claimed to be")}
\Nd{iAs}{bl}{620}{848}{290}{122}{An Acquisition Association}{\color{tt}\AS}
\Cl{iE12c}{pu}{995}{933}{E12_Production}
\Nd{iPPa}{or}{1385}{968}{290}{122}{A Production Part}{\PP{1}}
\Nd{iPI}{wh}{230}{968}{330}{102}{Person / Institution}{\PB}
\Cl{iEX}{pu}{605}{1005}{bmo:EX_Association}
\Nd{iPerI}{wh}{963}{1110}{330}{102}{Person / Institution}{\PC}
\Nc{iE13}{pu}{603}{1160}{285}{85}{E13_Attribute_Assignment}
\Nd{iAuth}{wh}{910}{1280}{530}{155}{Person (Authority)}{<\Ub id/thesauri/authority/<term>\\E (Eponym)\\G (Governor)\\I (Issuer)\\K (Ruler)\\Y (Magistrate)}
\Nd{iPA}{or}{1490}{1295}{290}{122}{A Production Association}{\color{tt}\PA}
\Nd{iAT}{wh}{315}{1340}{528}{270}{An Acquisition Type}{<\Ub id/thesauri/likelihood/<code>\\\mbox{}\\A: Attributed to\\AA: Attributed to an Apprentice/Pupil of\\AB: Ascribed to\\AC: Attributed to the Circle of\\AD: Assigned to\\AW: Attributed to the Workshop of\\CB: Claimed to be by\\AE: Formerly attributed to:}
\Nd{iMF}{wh}{910}{1467}{530}{165}{Person (Made for)}{<\Ub id/thesauri/authority/<term>\\PP (Authorised/Patronised)\\F (Made for)}
\Cl{iExA}{pu}{1514}{1487}{EX_Association}
\Nc{iTyp}{ly}{542}{1517}{155}{60}{<"Type">}
\end{scope}
\CJ
\Nc{jE12t}{pu}{558}{1}{265}{95}{E12_Production}
\Nd{jPPn}{do}{175}{255}{290}{122}{A Production Part}{\PP{n}}
\Nd{jPE}{or}{680}{195}{410}{175}{A Production Event}{<\Ub id/object/\\<registration number>/production}
\Cl{jE12r}{pu}{1030}{257}{E12_Production}
\Cl{jE12}{pu}{560}{380}{E12_Production}
\Nd{jPP1}{or}{1035}{418}{290}{122}{A Production Part}{\PP{1}}
\Cl{jE55}{gb}{1535}{408}{E55_Type}
\Nd{jAsn}{gb}{175}{486}{290}{122}{An Acquisition Association}{\AS}
\Nd{jPA}{or}{1022}{622}{290}{122}{A Production Association}{\color{tt}\PA}
\Cl{jEX}{pu}{108}{668}{bmo:EX_Association}
\Nd{jPer}{wh}{500}{728}{330}{102}{A Person}{\PC}
\Nc{jEXa}{pu}{1063}{772}{205}{65}{bmo:EX_Association}
\Cl{jE13b}{pu}{2}{838}{E13_Attribute_Assignment}
\Nd{jPAs}{wh}{705}{903}{420}{135}{Production Association}{<\Ub id/thesauri/production/\\<code>}
\Nc{jE13}{pu}{1065}{915}{240}{70}{E13_Attribute_Assignment}
\Nd{jT}{ly}{297}{917}{155}{105}{<"Type">}{(as above, e.g\\"Attributed to")}
\Nd{jProd}{do}{1312}{1075}{290}{122}{Production n}{\PP{n}}
\Cl{jE12b}{pu}{240}{1055}{E12_Production}
\Nd{jPPb}{or}{705}{1075}{290}{122}{A Production Part}{\PP{1}}
\Nd{jPl}{wh}{347}{1300}{330}{102}{A Place}{<\Ub id/thesauri/\\place/<biog. No.>\\(place thesaurus)}
\Nd{jPA2}{or}{862}{1322}{290}{122}{A Production Association}{\color{tt}\PA}
\Nd{jPup}{wh}{1230}{1280}{330}{102}{Pupil}{<\Ub id/production/\\n/pupil}
\Nd{jMF}{wh}{415}{1472}{530}{165}{Place (Made for)}{<\Ub id/thesauri/authority/<term>\\PP (Authorised/Patronised)\\F (Made for)}
\Cl{jEX2}{pu}{930}{1503}{EX_Association}
\Nd{jPI}{wh}{1252}{1493}{330}{102}{Person / Institution}{\PB}
\end{scope}
\CK
\Cl{kE74}{pu}{75}{92}{E74_Group}
\Nd{kEth}{wh}{447}{85}{320}{102}{An Ethnic Group}{<\Ub id/thesauri/\\<term id>}
\Nd{kDep}{wh}{1043}{122}{365}{115}{Department}{<\Ub id/thesauri/\\department/<dept>}
\Cl{kE12}{pu}{573}{277}{E12_Production}
\Nd{kProdA}{do}{195}{318}{290}{122}{Production n}{\PP{n}}
\Nd{kDim}{wh}{1107}{355}{330}{115}{A Dimension Type}{\Ub id/object/\\<reg. no.>/<dimension type>}
\Nd{kPI}{wh}{572}{480}{330}{102}{Person / Institution}{\PB}
\Nd{kTy}{gb}{207}{522}{318}{115}{A Type of Production}{<\Ub id/\\thesauri/production/<production type>}
\Cl{kE54}{pu}{1133}{527}{E54_Dimension}
\Cl{kE21}{pu}{572}{642}{E21_Person / E39_Actor}
\Nd{kProdB}{do}{115}{700}{290}{122}{Production n}{\PP{n}}
\Cl{kE21a}{lp}{885}{750}{E21_Person}
\Cl{kE12b}{pu}{507}{792}{E12_Production}
\Nc{kE73}{pu}{48}{862}{270}{85}{E73_Group}
\Nd{kImg}{lo}{1423}{885}{290}{122}{An Image}{<\Ub\\id/object/<registration number>/\\image/<counter>}
\Nd{kA}{wh}{925}{955}{330}{102}{A Person}{\PC}
\Nd{kTyB}{gb}{75}{1010}{318}{115}{A Type of Production}{<\Ub id/\\thesauri/production/<code>}
\Cl{kE74b}{lp}{1185}{1047}{E74_Group}
\Nd{kPG}{lb}{455}{1098}{330}{102}{Person-Institution (Group)}{\PB}
\Nc{kWs}{ly}{68}{1202}{210}{60}{"Workshop (etc) of"\\<name>}
\Nd{kEthg}{wh}{953}{1170}{330}{102}{Ethnic group}{<\Ub id/thesauri/\\<term>\\(Ethnic Group)}
\Nd{kPlace}{wh}{953}{1290}{330}{102}{A Place}{\Ub id/place/\\<term>\\(place)}
\Nd{kPI2}{wh}{455}{1305}{330}{102}{Person / Institution}{\PB}
\Nc{kE21b}{pu}{25}{1338}{270}{88}{E21_Person}
\Nc{kE21d}{pu}{25}{1436}{270}{88}{E21_Person}
\Nd{kPT}{wh}{1202}{1440}{330}{102}{Place Type}{<\Ub id/place/\\type}
\Cl{kE21c}{pu}{455}{1487}{E21_Person}
\Cl{kE53}{lp}{868}{1487}{E53_Place}
\end{scope}
\CM
\Nd{mDT}{gb}{69}{62}{326}{115}{Dimension Term}{\Ub id/\\thesauri/dimension/<dimension type>}
\Nd{mU}{gb}{70}{218}{420}{145}{A type of unit}{\Ub id/thesauri/unit/\\<unit type>\\OR\\http://qudt.org/vocab/unit/<type>}
\Nc{mV}{ly}{67}{382}{335}{62}{"[value as text]"}
\Nd{mMx}{ly}{67}{462}{335}{62}{"[max value]"}{Xsd:double}
\Nd{mMn}{ly}{67}{537}{335}{62}{"[min value]"}{Xsd:double}
\Nd{mSg}{ly}{67}{607}{335}{62}{"[single value]"}{Xsd:double}
\Nc{mE38}{lp}{150}{728}{275}{85}{E38_Image}
\Nd{mArch}{wh}{80}{1325}{338}{105}{Archaic}{<\Ub id/thesauri/\\place/type/archaic}
\Nd{mOA}{gb}{612}{178}{330}{115}{An Object Acquisition date}{\Ub id/\\object/<reg.no.>/acquisition/date}
\Nd{mE}{ly}{1337}{95}{262}{65}{"[acquisition year earliest date]"}{E.g. 2009-01-01}
\Nd{mL}{ly}{1337}{203}{262}{65}{"[acquisition year latest date]"}{E.g. 2009-12-31}
\Nc{mUn}{ly}{503}{305}{165}{55}{"[Unit]"}
\Nc{mC}{ly}{1340}{310}{272}{62}{"[acquisition year comment]"}
\Nc{mT}{ly}{1337}{412}{262}{62}{"[acquisition year text]"}
\Nd{mR1}{or}{806}{412}{300}{122}{A Repair}{<\Ub\\id/object/<reg.no.>/repair>}
\Nd{mAc}{wh}{1338}{547}{395}{118}{An Actor}{\Ub id/Person-institution/\\<"person term">\\(actor term)}
\Nd{mMd}{or}{505}{592}{300}{122}{A Modification}{<\Ub\\id/object/<reg.no.>/modification>}
\Cl{mE11}{pu}{830}{593}{E11_Modification}
\Nd{mMo}{wh}{1338}{712}{395}{118}{A Modification}{\Ub id/thesauri/\\modification/"RP"\\(Repaired)}
\Nd{mR2}{or}{817}{797}{300}{122}{A Repair}{<\Ub\\id/object/<reg.no.>/repair>}
\Nd{mPl}{wh}{1320}{900}{395}{118}{A Place}{\Ub id/Thesauri/place/\\<"placeterm">\\(place term)}
\Nd{mEA}{wh}{452}{890}{335}{100}{Ethnic Association}{<\Ub id/thesauri/\\Association/<term>\\IR (Representation)}
\Cl{mE22}{pu}{958}{957}{E22_Man-Made_Object}
\Nd{mPA}{wh}{452}{1047}{495}{150}{Place Association}{<\Ub id/thesauri/Association/<term>\\IT (Topographical)\\PA (Allegory/Personification)\\EE (Emblem )}
\Nd{mOr}{lo}{958}{1138}{300}{122}{An Original}{<\Ub\\id/object/<registration number>/\\original/<counter>}
\Nd{mPIA}{wh}{472}{1240}{535}{165}{Person / Institution Association}{<\Ub id/thesauri/association/<term>\\AB (Illustration)\\IP (Portrait)\\IR (Representation)\\EE (Emblem)}
\Nd{mPE}{lo}{958}{1340}{300}{122}{A Production Event}{<\Ub\\id/object/<registration number>/\\original/<counter>/production/}
\Nd{mPA2}{lb}{1400}{1232}{395}{118}{Place Association}{\Ub id/thesauri/\\association/<place association>\\(OF - Original from)}
\Nd{mMod}{wh}{314}{1470}{335}{102}{Modern}{<\Ub id/thesauri/\\place/type/Modern}
\Nd{mPl2}{lb}{1400}{1467}{395}{118}{A Place}{\Ub id/Thesauri/place/\\<term id>(place term)}
\Cl{mE12}{pu}{958}{1515}{E12_Production}
\end{scope}
%% ---- connectors
\CA
\Lk{aP}{aSkos}{335}{210}{skos:inscheme}
\Lk{aP}{aName}{550}{160}{skos:prefLabel}
\Lk{aP}{aBio}{668}{140}{P3_has_note}
\Lk{aP}{aProf}{860}{162}{PX_profession\\(sub of P107i)}
\Lk{aP}{aGen}{982}{207}{bmo:PX_gender}
\Lk{aP}{aSch}{1000}{287}{P107i_is_current_or_\\former_member_of}
\Lk{aP}{aNat}{905}{356}{PX_nationality}
\Lk{aP}{aCon}{418}{288}{rdf:type}
\Lk{aP}{aAct}{357}{386}{rdf:type}
\Lk{aP}{aPer}{468}{403}{rdf:type\\\gyt{(if gender recorded)}}
\Lk{aP}{aApp}{983}{504}{P131_is_identified_by}
\Lk{aApp}{aE82}{848}{565}{rdf:type}
\Lk{aApp}{aNm}{808}{600}{rdfs:label}
\Lk{aApp}{aSide}{1270}{689}{bmo:PX_display_wrap}
\Lk{aApp}{aDe}{900}{708}{P38i_was_\\deassigned_by}
\Lk{aApp}{aAs}{1115}{725}{P37i_was_assigned_by}
\Lk{aDe}{aE15}{342}{692}{rdf:type}
\Lk{aDe}{aDT}{582}{800}{P4_has_time-span}
\Lk{aDT}{aTS}{225}{908}{rdf:type}
\Lk{aDT}{aDate}{254}{921}{P3_has_note}
\Lk{aDT}{aEar}{895}{938}{P82_at_some_time_within}
\Lk{aAs}{aE15b}{1282}{907}{rdf:type}
\Lk{aAs}{aAT}{1170}{955}{P4_has_time-span}
\Lk{aAT}{aDate2}{1125}{1246}{P3_has_note}
\Lk{aAT}{aEar2}{1392}{1274}{P82_at_some_time_within}
\Lk{aAT}{bE52d}{1463}{1180}{rdf:type}
\Lk{aIid}{aAsset}{180}{1288}{P3_has_note}
\Lk{aIid}{aIT}{353}{1240}{P2_has_type}
\Lk{aIid.east}{aAid}{503}{1153}{rdfs:label}
\Lk{aIid.east}{aE42}{510}{1234}{rdf:type}
\Lk{aURL.west}{aIid.east}{473}{1327}{P48_has_preferred_identifier}
\Lk{aURL.west}{aBri}{460}{1520}{P105_right_held_by}
\Lk{aURL}{aNote}{678}{1420}{P3_has_note}
\Lk{aURL}{aE38}{1007}{1372}{rdf:type}
\node[lab] (lbR1) at (832,1417) {P138i_has_representation};
\node[lab] (lbR2) at (925,1480) {bmo:PX_has_main_representation\\\gyt{(if indicated in database)}};
\end{scope}
\CB
\Lk{aSch}{bE74}{85}{142}{rdf:type}
\Lk{aSch}{bSchW}{180}{187}{bmo:PX_display_wrap}
\Lk{aSch}{bSchL}{40}{140}{rdfs:label}
\Lk{bDD}{bLate}{245}{322}{P82b_end_of_the_end}
\Lk{bDD}{bDT}{487}{330}{P3_has_note}
\Lk{bDD}{bEarl}{25}{397}{P82a_begin_of_the_begin}
\Lk{bDD}{aE52}{57}{484}{rdf:type}
\Lk{bD}{bDD}{280}{588}{P4_has_time-span}
\Lk{bD}{aE64}{55}{650}{rdf:type}
\Lk{bPI}{bD}{285}{815}{P93i_was_taken_out\\_of_existence_by}
\Lk{bPI}{bAct}{530}{571}{P12i_was_present_at}
\Lk{bAD}{bAct}{692}{604}{P4_has_time-span}
\Lk{bAct.east}{bE7}{935}{515}{rdf:type}
\Lk{bAct.east}{bDet}{925}{647}{P3_has_note}
\Lk{bAD}{bE52}{930}{750}{rdf:type}
\Lk{bAD}{bDE}{558}{845}{P82a_begin_of_the_begin}
\Lk{bAD}{bDTx}{788}{868}{P3_has_note}
\Lk{bAD}{bDL}{898}{851}{P82b_end_of_the_end}
\Lk{bBD}{bE52c}{519}{1134}{rdf:type}
\Lk{bBD.east}{bbL}{750}{1047}{P82b_end_of_the_end}
\Lk{bBD.east}{bbT}{825}{1112}{P3_has_note}
\Lk{bBD.east}{bbE}{778}{1192}{P82a_begin_of_the_begin}
\Lk{bB}{bBD}{518}{1330}{P4_has_time-span}
\Lk{bPI}{bB}{368}{1310}{P92i_was_brought_\\into_existence_by}
\Lk{bB}{bE63}{288}{1235}{rdf:type}
\Lk{bOA}{bAspect}{1050}{333}{P2_has_type}
\Lk{bOA}{bLabA}{985}{72}{rdfs:label}
\Lk{bAspect}{bE25}{967}{157}{rdf:type}
\Ln{bAspect}{bSK}
\Lk{bm.130}{bOA.east}{1288}{540}{bears_feature}
\Lk{fPN}{bEsc}{982}{1442}{bmo:PX_escapement}
\Lk{fPN}{bOT}{1010}{1528}{skos:prefLabel}
\Lk{fPE}{bPA}{743}{1540}{P2_has_type}
\Ln[-]{bTS}{bm}
\Lk{bm.122}{bEH}{1550}{1092}{bmo:PX_exhibition_history}
\Lk{bm.122}{bEL}{1530}{1187}{bmo:PX_object_\\exhibition_label}
\Lk{bm.122}{bAE}{1500}{1277}{bmo:PX_display_wrap}
\Lk{bm.122}{bCN}{1530}{1370}{bmo:PX_condition}
\end{scope}
\CC
\Lk{cIns.west}{bTxt}{120}{567}{rdfs:label}
\Lk{cIns.west}{bTra}{102}{677}{rdfs:label}
\Lk{cIns.west}{bPos}{108}{763}{bmo:PX_inscription\\_position}
\Lk{cIns.west}{bLit}{123}{853}{bmo:PX_has_\\transliteration}
\Lk{cIns.west}{bIN}{105}{920}{P3_has_note}
\Lk{cIns.west}{bEvent}{140}{162}{P67_refers_to\\\gyt{(if present)}}
\Lk{cIns.west}{bPIA}{170}{330}{P2_has_type}
\Lk{cIns.west}{bPIn}{150}{475}{P67_refers_to\\\gyt{(if present)}}
\Lk{cCr}{cPT}{328}{187}{P2_has_type}
\Lk{cCr}{cPer}{665}{201}{P14_carried_out_by}
\Lk{cCr}{cE65}{465}{332}{rdf:type}
\Lk{cIns.east}{cCr}{467}{540}{P94i_was_created_by}
\Lk{cIns.east}{cPA.west}{875}{117}{P2_has_type}
\Lk{cIns.east}{cEA.west}{855}{277}{P2_has_type}
\Lk{cIns.east}{cPl.west}{887}{428}{P67_refers_to}
\Lk{cIns.east}{cTr}{645}{845}{P73_has_\\translation}
\Lk{cTr}{cTrL}{835}{747}{rdfs:label}
\Lk{cTr}{cE33}{950}{690}{rdf:type}
\Lk{cIns}{cE34}{365}{736}{rdf:type}
\Lk{cIns.east}{cSub}{597}{950}{bmo:PX_inscription_\\subject}
\Lk{cIns.east}{cLan}{545}{1060}{P72_has_\\language}
\Lk{cIns.east}{cTyp}{578}{1240}{bmo:PX_inscription_\\type}
\Lk{cIns.east}{cScr}{563}{1305}{bmo:PX_inscription_\\script}
\Lk{bm.60}{cIns}{407}{952}{P65_shows_visual_item}
\Ln{cSub}{cSK}
\Ln{cLan}{cSK}
\Ln{cTyp}{cSK}
\Ln{cScr}{cSK}
\Lk{cLoc}{cGal}{205}{1094}{rdfs:label}
\Lk{cLoc}{cE53}{225}{1293}{rdf:type}
\Lk{bm.100}{cLoc}{96}{1285}{P55_has_\\current_location}
\Lk{bm.19}{cOI}{975}{1547}{P48_has_preferred_identifier\\\gyt{(instead of P1 where this applies)}}
\Lk{cOI}{cE42}{1287}{1332}{rdf:type}
\Lk{cOI.east}{dWhich}{1490}{1380}{P2_has_type}
\Lk{cOI.east}{dReg}{1448}{1438}{rdfs:label}
\Lk{bm.19}{dCop}{1503}{423}{P104_is_\\subject_to}
\Lk{bm.19}{dCoL}{1510}{137}{PX_has_copyright}
\Lk{bm.19}{dSer}{1495}{717}{P46i_forms_part_of\\\gyt{(if title type = series)}}
\Lk{bm.19}{dSt}{1455}{842}{bmo:PX_type_series}
\Lk{bm.19}{dT}{1440}{977}{P102_has_title\\\gyt{(if title type = object)}}
\end{scope}
\CD
\Lk{dT}{cE35}{125}{1055}{rdf:type}
\Lk{dCop}{dE30}{205}{283}{rdf:type}
\Lk{dCop}{dCo2}{450}{290}{P3_has_note}
\Lk{dSer}{dE78}{203}{577}{rdf:type}
\Lk{dSer}{dTr}{400}{582}{rdfs:label}
\Lk{dSer}{dST}{415}{703}{rdfs:label}
\Lk{dT}{dTi}{402}{947}{rdfs:label}
\Lk{dT}{dTT}{392}{1000}{rdfs:label}
\Ln{dWhich}{dSK}
\Lk{bm.11}{dF}{585}{582}{P12i_was_\\present_at}
\Lk{dF}{dE10}{820}{444}{rdf:type\\\gyt{(if collected)}}
\Lk{dF.east}{dBM}{1068}{200}{P14_carried_out_by\\(if excavated by the Museum)}
\Lk{dF.east}{dPI}{1068}{338}{P14_carried_out_by\\(if excavated independently)}
\Lk{dF.east}{dAuth}{1045}{527}{P2_has_type}
\Lk{dF.east}{dPl}{1082}{725}{P7_took_place_at}
\Lk{dF.east}{dAF}{1020}{905}{P2_has_type}
\Lk{dF}{dDis}{815}{660}{rdf:type}
\Lk{dDis}{dE7}{817}{830}{rdfs:subClassOf}
\coordinate (dq1) at (1085,822);\coordinate (dq2) at (1085,558);\coordinate (dq3) at (1072,558);
\Lk{dA1.east}{dTA}{720}{1168}{P17_was_\\motivated_by}
\Lk{dA1.east}{dTAa}{738}{1355}{P2_has_type}
\Lk{gAq.east}{dA1}{257}{1338}{P9_consists_of}
\Lk{dEXA}{dE13}{1435}{1257}{rdfs:subClassOf}
\Lk{hAs1}{dEXA}{1245}{1400}{rdf:type}
\Lk{hAT}{dEXA}{1408}{1430}{rdf:type}
\end{scope}
\CE
\Lk{ePD}{ePL}{374}{137}{P82b_end_of_the_end}
\Lk{ePD}{ePE}{355}{225}{P82a_begin_of\\_the_begin}
\Lk{ePD}{ePT}{352}{291}{P3_has_note}
\Lk{ePD}{eE52}{487}{157}{rdf:type}
\Lk{ePub.west}{ePD}{330}{521}{P4_has_time-span}
\Lk{eBib.west}{eE31}{860}{353}{rdf:type}
\Lk{eBib.west}{eDoc}{855}{403}{rdf:type}
\Lk{eBib.west}{eTi}{885}{532}{skos:prefLabel}
\Lk{eBib}{eSer}{1063}{370}{rdf:type\\\gyt{(if a series or collection)}}
\Lk{eBib}{eJ}{1255}{383}{rdf:type\\\gyt{(if a journal)}}
\Lk{eBib}{eAuth}{1302}{308}{P94i_was_created_by}
\Lk{eAuth}{eAu}{1287}{123}{P14_carried_out_by}
\Lk{eAu}{fAut}{1485}{20}{rdfs:label}
\Lk{eAuth}{fE65}{1560}{180}{rdf:type}
\Lk{eAuth.west}{aTh}{921}{75}{P2_has_type}
\Lk{eBib}{ePub}{940}{635}{P94i_was_created_by}
\Lk{eBib}{eSk}{1105}{610}{skos:inscheme}
\Lk{eBib}{eCon}{930}{767}{rdf:type}
\Lk{eBib}{eNote}{1072}{725}{P3_has_note}
\Lk{eBib}{eSeries}{968}{885}{P148i_is_component_of\\\gyt{(if a series)}}
\Lk{eBib}{eColl}{1087}{830}{P148i_is_component_of\\\gyt{(if a collection)}}
\Lk{eSeries}{eST}{725}{1016}{rdfs:label}
\Lk{eColl}{eCT}{1282}{1013}{rdfs:label}
\Lk{eBib}{eIs}{908}{1165}{bibo:identifier}
\Lk{eBib}{eVo}{895}{1260}{bibo:volume}
\Lk{eBib}{eJt}{892}{1332}{bibo:shortTitle\\\gyt{(if a journal)}}
\Lk{eBib}{eEd}{1105}{1134}{bibo:edition}
\Lk{eBib}{eIss}{1120}{1235}{bibo:issue}
\Lk{eBib}{ePg}{1112}{1296}{bibo:numPages}
\Lk{ePub.west}{ePlc}{485}{770}{P7_took_\\place_at}
\Lk{ePub.west}{eE65}{450}{924}{rdf:type}
\Lk{ePub.west}{ePbg}{485}{1053}{P2_has_type}
\Lk{ePub.west}{ePbr}{483}{1200}{P14_carried_\\out_by}
\Lk{ePlc}{eE53}{158}{645}{rdf:type}
\Lk{ePlc}{ePP}{297}{688}{rdfs:label}
\Lk{ePbr}{ePu}{230}{1332}{rdfs:label}
\Lk{ePbr}{eE40}{502}{1383}{rdf:type}
\Lk{eA}{eE53p}{897}{1485}{rdf:type}
\Lk{ePrt}{eA}{1095}{1527}{P7_took_place_at}
\Lk{jPE.west}{ePrt}{1515}{1510}{P9_consists_of}
\Ln{ePrt}{eSK2}
\end{scope}
\CF
\Lk{fPE}{fPer}{770}{157}{P14_carried_out_by}
\Lk{fPE}{fPl}{628}{288}{P7_took_place_at}
\Lk{fOP}{fPE}{1082}{283}{P108i_was_\\produced_by}
\Lk{fOP}{fPN}{1023}{177}{P2_has_type}
\Lk{fOP}{fE22}{1323}{143}{rdf:type}
\Lk{fOP}{bm.150}{1430}{406}{P46i_forms_part_of}
\Lk{bm.150}{fE22b}{1503}{451}{rdf:type}
\Lk{jPE.east}{fPP1}{938}{473}{P9_consists_of}
\Ln[dotted]{jPE.75}{fPE}
\Lk{fPP1.west}{fPD}{535}{571}{P4_has_time-span}
\Lk{fPP1}{fE12}{755}{543}{rdf:type}
\Lk{fPD}{fE52}{263}{513}{rdf:type}
\Lk{fPD}{fSD}{90}{738}{P82a_begin_\\of_the_begin}
\Lk{fPD}{fDt}{255}{738}{P82_at_some_\\time_within}
\Lk{fPD}{fED}{420}{710}{P82a_end\\_of_end}
\Lk{fT}{fE35}{1110}{533}{rdf:type}
\Lk{bm.170}{fT}{1300}{655}{P128_\\carries}
\Lk{fT}{fTxt}{1092}{767}{P3_has_note}
\Lk{fT.west}{fTA}{810}{778}{P2_has_type\\\gyt{If code = IT)}}
\Lk{fPP2}{fPC}{405}{958}{P10_falls_within}
\Lk{fPP2}{fNote}{397}{1088}{bmo:PX_display\\_wrap}
\Lk{fPP3.west}{fTech}{405}{1200}{P32_used_\\general_technique}
\Lk{fPP3.west}{fTN}{362}{1310}{bmo:PX_display_wrap}
\Lk{fPPc}{fPS}{465}{1458}{P10_falls_within}
\Lk{jPE}{fPP2}{823}{1153}{P9_consists_of}
\Lk{jPE}{fPP3}{838}{1327}{P9_consists_of}
\Lk{jPE}{fPPc}{750}{1503}{P9_consists_of}
\Lk{jPE.east}{fPE}{960}{1088}{P9_consists_of}
\Lk{fPPc}{jE12t}{605}{1485}{rdf:type}
\Ln{fPC}{eSK1}
\Ln{fPS}{eSK2}
\Lk{gC}{fE73}{1455}{925}{rdf:type}
\end{scope}
\CG
\Lk{gC.south}{fEG}{40}{1060}{P67_refers_to\\(AW)}
\Lk{gC.south}{fPlace}{40}{1195}{P67_refers_to\\(RW)}
\Lk{gC.south}{fSub}{35}{1285}{P129_is_about}
\Lk{gC.south}{fEv}{55}{1460}{bmo:PX_commemorates\\\gyt{(IC)}}
\Lk{gC.south}{gPerI}{152}{1285}{P67_refers_to\\\gyt{(PO)}}
\Lk{gC.south}{gEv}{185}{1442}{P67_refers_to\\\gyt{(IW)}}
\Lk{gEx}{cE5}{120}{42}{rdf:type}
\Lk{gEx}{cExh}{360}{5}{P2_has_type}
\Lk{gEx}{gExN}{365}{133}{rdfs:label}
\Lk{bm}{gEx}{107}{355}{P12i_was_present_at}
\Lk{bm.55}{gAE1}{285}{280}{P12i_was_present_at\\\gyt{(DF – Designed For}\\\gyt{IU – Used at)}}
\Lk{bm.40}{gAE2}{390}{460}{P19i_was_made_for\\\gyt{(DF – Designed For)}}
\Lk{bm.19}{gM}{763}{355}{P45_consists\\_of}
\Lk{bm.19}{cOI}{1060}{27}{P1\\_is_identified_by}
\Lk{gM}{gE57}{1007}{243}{rdf:type}
\Lk{gM.east}{gMC}{1207}{260}{P94i_was_created_by}
\Lk{gMC}{gE65}{1325}{313}{rdf:type}
\Lk{gM.east}{hNat}{1375}{67}{P3_has\\_note}
\Lk{bm.11}{hBM}{1175}{457}{P29_custody_received_by}
\Lk{bm.11}{hBM}{1203}{523}{P50_has_current_keeper}
\Lk{bm.11}{hBM}{1262}{591}{P52_has_current_owner}
\Lk{bm}{gC}{95}{828}{P128_carries}
\Lk{bm.-60}{gMat}{367}{848}{P45_consists_of}
\Ln{gMat.east}{gSK}
\Lk{bm.-75}{gBook}{267}{1085}{P70i_is_documented_in}
\Lk{bm.-11}{gDisp}{870}{1045}{bmo:PX_display_wrap}
\Lk{bm.-11}{gAq}{1170}{970}{P24i_changed_\\ownership_through}
\Lk{bm.-11}{gWh}{860}{1285}{P2_has_type}
\Ln{gWh}{gSK2}
\Lk{gWh}{gE55}{1080}{1408}{rdf:type}
\Lk{gAq}{gE8}{1468}{1083}{rdf:type}
\Lk{gAq.south}{gE10}{1310}{1167}{rdf:type}
\end{scope}
\CH
\Lk{gMC.east}{hPl}{85}{215}{P7_took_\\place_at}
\Ln[-]{hNat}{hPl}
\Ln[-]{hPl}{hBM}
\Lk{gAq.north}{hBM.south}{85}{655}{P22_transfer_\\title_to}
\Lk{gAq.east}{hA1}{327}{234}{P9_consists_of}
\Lk{gAq.east}{hA2}{503}{553}{P9_consists_of}
\Lk{gAq.east}{hA3}{308}{1047}{P9_consists_of}
\Lk{gAq.east}{hA4}{300}{1167}{P9_consists_of}
\Lk{gAq.east}{hA5}{327}{1355}{P9_consists_of}
\Lk{hA3.east}{hTL}{1033}{1067}{P2_has_type}
\Lk{hA4.east}{hTT}{875}{1268}{P2_has_type}
\Lk{hA5.east}{hTP}{930}{1495}{P2_has_type}
\Lk{hA3.east}{hPI}{905}{1003}{\bgt{P23_transferred}\\\bgt{_title_from}}
\Lk{hA4.east}{hPI}{967}{885}{\bgt{P28_custody_surrendered_by}}
\Lk{hA5.east}{hPI.-55}{1128}{812}{\bgt{P14_carried_out_by}}
\Lk{hA1}{hAs1}{888}{160}{P140_assigned_attribute_to}
\Lk{hAs1}{hAT}{1148}{92}{P2_has_type}
\Lk{hA1}{hPI}{748}{282}{\bgt{P17_was_motivated_by}}
\coordinate (r1) at (820,340);\coordinate (r2) at (920,415);
\Lk[rdl]{hAs1.west}{r1}{955}{310}{\rlt{bmo:PX_property}}
\Lk{hA2}{hPI}{1027}{450}{\bgt{P11_participated_in}}
\Lk{hA2}{hAs2}{933}{568}{P140_assigned_attribute_to}
\Lk[rdl]{hAs2.west}{r2}{1075}{373}{\rlt{bmo:PX_property}}
\Lk{hAs2}{hPI}{1340}{635}{P141_assigned}
\Lk{hAs2}{dTC}{1380}{238}{P2_has_type}
\end{scope}
\CI
\Lk{iPT}{iE39}{382}{123}{rdf:type}
\Lk{eA}{iPT}{855}{118}{P74i_is_current_or\\former_residence_of}
\Lk{iPP1}{iPl}{440}{266}{P7_took_place_at}
\Lk{iPl}{iE53}{196}{305}{rdf:type}
\Lk{iPP1}{iE12a}{850}{255}{rdf:type}
\Lk{iPP1}{iPC}{597}{460}{P2_has_type}
\Lk{jPE.west}{iPP1}{690}{252}{P9_consists_of}
\Lk{iPC}{iLit}{277}{602}{rdfs:label}
\Lk{jPE.west}{iPP2}{1032}{515}{P9_consists_of}
\Lk{iPP2}{iE12b}{990}{412}{rdf:type}
\Lk{iAs}{iPP2}{827}{686}{P140_assigned_attribute_to}
\Lk{iPP2}{iPI}{250}{855}{P14_carried_out_by}
\Lk{iAs}{iPI}{433}{910}{P141_assigned}
\Lk{iAs}{iEX}{610}{935}{rdf:type}
\Lk{iEX}{iE13}{605}{1080}{rdfs:subClassOf}
\Lk{iAs}{iAT}{330}{1148}{bmo:PX_likelihood}
\coordinate (r3) at (558,678);\coordinate (r4) at (1205,1005);
\Lk[rdl]{iAs}{r3}{582}{735}{\rlt{bmo:PX_property}}
\Lk{iAT}{iTyp}{385}{1515}{rdfs:label}
\Lk{jAsn}{iAT2}{1560}{627}{bmo:PX_likelihood}
\Lk{iAT2}{iT2}{1085}{730}{rdfs:label}
\Lk{jPPn}{iPl2}{1342}{273}{P7_took_place_at}
\Lk{jAsn}{iPl2}{1533}{422}{P141_assigned}
\Lk{iPPa}{iE12c}{1195}{955}{rdf:type}
\Lk{iPPa}{iPerI}{1060}{1008}{P17_was_motivated_by}
\Lk{iPA}{iPPa}{1425}{1092}{P140_assigned_attribute_to}
\Lk{iPA}{iPerI}{1207}{1142}{P141_assigned}
\Lk{iPA.west}{iAuth}{1280}{1285}{P2_has_type}
\Lk{iPA.west}{iMF}{1262}{1433}{P2_has_type}
\Lk[rdl]{iPA}{r4}{1335}{1137}{\rlt{bmo:PX_property}}
\Lk{iPA}{iExA}{1500}{1400}{rdf:type}
\end{scope}
\CJ
\Lk{jPE.west}{iPPa}{55}{957}{P9_consists_of}
\Lk{jPE.west}{jPPn}{345}{212}{P9_consists_of}
\Lk{jPPn}{iE12t}{168}{145}{rdf:type}
\Lk{jAsn}{jPPn}{210}{378}{P140_assigned_attribute_to}
\coordinate (r5) at (-58,258);\coordinate (r6) at (730,497);\coordinate (r7) at (505,1148);
\Lk[rdl]{jAsn}{r5}{52}{360}{\rlt{bmo:PX_property}}
\Lk{jAsn}{jEX}{142}{590}{rdf:type}
\Lk{jEX}{jE13b}{60}{752}{rdfs:subClassOf}
\Lk{jPE}{jE12}{562}{299}{rdf:type}
\Lk{jPE}{jPP1}{822}{389}{P9_consists_of}
\Lk{jPP1}{jE12r}{1030}{333}{rdf:type}
\Lk{jPA}{jPP1}{1030}{520}{P140_assigned_attribute_to}
\Lk{jPP1.west}{jPer}{512}{624}{P15_was_influenced_by}
\Lk[rdl]{jPA}{r6}{815}{557}{\rlt{bmo:PX_property}}
\Lk{jPA.west}{jPer}{705}{691}{P141_assigned}
\Lk{jPA}{jPAs}{730}{778}{P2_has_type}
\Lk{jPA}{jEXa}{1045}{708}{rdf:type}
\Lk{jEXa}{jE13}{1063}{842}{rdfs:subClassOf}
\Lk{jPAs}{jT}{432}{915}{rdfs:label}
\Lk{jPE.east}{jPPb}{945}{1072}{P9_consists_of}
\Lk{jPPb}{jE12b}{487}{1061}{rdf:type}
\Lk{jPPb.west}{jPl}{395}{1195}{P17_was_motivated_by}
\Lk{jPA2}{jPPb}{745}{1189}{P140_assigned_attribute_to}
\Lk{jPA2.west}{jPl}{558}{1307}{P141_assigned}
\Lk{jPA2}{jMF}{745}{1447}{P2_has_type}
\Lk{jPA2}{jEX2}{892}{1428}{rdf:type}
\Lk[rdl]{jPA2}{r7}{632}{1234}{\rlt{bmo:PX_property}}
\Lk{jPE.east}{jProd}{1330}{948}{P9_consists_of}
\Lk{jProd}{jPup}{1278}{1176}{P14_carried_out_by}
\Lk{jPup}{kE21b}{1425}{1299}{rdf:type}
\Lk{jPup}{jPI}{1243}{1386}{PX_pupil_of}
\Lk{jPI}{kE21d}{1435}{1470}{rdf:type}
\Lk{jPE.east}{kProdA}{1460}{268}{P9_consists_of}
\Lk{jPE.east}{kProdB}{1462}{672}{P9_consists_of}
\node[lab] (lbP8) at (1008,123) {P108i_was_produced_by};
\end{scope}
\CK
\Lk{kProdA}{kE12}{383}{293}{rdf:type}
\Lk{kProdA.east}{kPI.west}{385}{406}{P14_carried_out_by}
\Lk{kProdA}{kTy}{203}{420}{P2_has_type}
\Lk{kTy}{jE55}{-40}{520}{rdf:type}
\Lk{kPI}{kE21}{567}{577}{rdf:type}
\Lk{kProdB}{kE12b}{310}{757}{rdf:type}
\Lk{kProdB}{kPG}{445}{980}{P14_carried_out_by}
\Lk{kPG}{kE73}{254}{865}{rdf:type}
\Lk{kPG.west}{kTyB}{253}{1065}{P2_has_type}
\Lk{kTyB}{kWs}{68}{1125}{rdfs:label}
\Lk{kPG}{kPI2}{455}{1207}{P107_has_former_or_\\current_member}
\Lk{kPI2}{kE21c}{455}{1392}{rdf:type}
\Lk{kEth}{kE74}{213}{179}{rdf:type}
\Lk{bm.-11}{kEth}{657}{56}{P14_carried_out_by}
\Lk{bm.-11}{kDep}{828}{78}{P50_has_current_keeper}
\Ln{kDep.east}{gSK74}
\Lk{bm.-11}{kDim}{880}{325}{P43_has_dimension}
\Lk{kDim.east}{mDT}{1325}{132}{P2_has_type}
\Lk{kDim.east}{mU}{1342}{235}{P91_has_unit}
\Lk{kDim.east}{mV}{1370}{381}{P3_has_note}
\Lk{kDim.east}{mMx}{1380}{440}{PX_max_value}
\Lk{kDim.east}{mMn}{1362}{513}{PX_min_value}
\Lk{kDim.east}{mSg}{1352}{597}{P90_has_value}
\Lk{kDim}{kE54}{1113}{453}{rdf:type}
\Lk{bm.-11}{kA}{762}{462}{P62_depicts}
\Lk{bm.-11}{kEthg}{740}{1130}{P62_depicts\\\gyt{(IR – Representation of)}}
\Lk{bm.-11}{kPlace}{738}{1280}{P62_depicts}
\Lk{bm.-11}{kImg}{1190}{873}{P65_shows_\\visual_item}
\Lk{kImg}{kA}{1190}{955}{P138_\\represents}
\Lk{kImg.south}{kEthg}{1230}{1152}{P138_\\represents}
\Lk{kImg.south}{kPlace}{1257}{1252}{P138_\\represents}
\Lk{kA}{kE21a}{900}{851}{rdf:type}
\Lk{kEthg}{kE74b}{1070}{1106}{rdf:type}
\Lk{kPlace}{kE53}{905}{1392}{rdf:type}
\Lk{kPlace}{kPT}{1077}{1367}{P2_has_type}
\Lk{kPT.east}{mArch}{1403}{1388}{P2_has_type\\\gyt{(if archaic)}}
\Lk{kPT.east}{mMod}{1508}{1470}{P2_has_type\\\gyt{(if modern)}}
\end{scope}
\CM
\Lk{gAq.east}{mOA}{382}{128}{P4_has_\\time-span}
\Lk{mOA}{hE52}{613}{82}{rdf:type}
\Lk{mOA.east}{mE}{1053}{107}{P82a_begin_of_the_begin}
\Lk{mOA.east}{mL}{1038}{198}{P82b_end_of_the_end}
\Lk{mOA.east}{mC}{1080}{296}{P3_has_note}
\Lk{mOA.east}{mT}{1060}{367}{P82_at_some_time_within}
\Lk{mU.east}{mUn}{360}{291}{rdfs:label}
\Lk{kImg.north}{mE38}{30}{798}{rdf:type}
\Lk{kImg.east}{mEA}{188}{890}{P2_has_type}
\Lk{kImg.south}{mPA}{125}{1047}{P2_has_type}
\Lk{kImg.south}{mPIA}{78}{1238}{P2_has_type}
\Lk{bm.-11}{mOr}{693}{1158}{P130_shows_features_of}
\Lk{mOr}{mE22}{960}{1047}{rdf:type}
\Lk{mOr}{mPE}{960}{1223}{P108i_was_produced_by}
\Lk{mPE}{mE12}{955}{1428}{rdf:type}
\Lk{mPE.east}{mPA2}{1158}{1277}{P2_has_type}
\Lk{mPE.east}{mPl2}{1155}{1414}{P7_took_place_at}
\Lk{mMd.east}{mR1}{625}{540}{P9_consists_of}
\Lk{mMd.east}{mR2}{672}{728}{P9_consists_of}
\Lk{mR1}{mE11}{820}{512}{rdf:type}
\Lk{mR2}{mE11}{823}{686}{rdf:type}
\Lk{mR2.east}{mAc}{1053}{571}{P14_carried_out_by}
\Lk{mR2.east}{mMo}{1075}{730}{P2_\\has_type}
\Lk{mR2.east}{mPl}{1012}{890}{P7_took_place_at}
\end{scope}
\node[lab] (lbA) at (1477,789) {P30_transferred_\\custody_of};
\node[lab] (lbB) at (1432,819) {P24_transferred\\_title_of};
\node[lab] (lbC) at (1994,838) {P49_has_former_\\or_current_keeper};
\node[lab] (lbD) at (2075,847) {P51_has_former_\\or_current_owner};
\node[lab] (lbE) at (1877,1326) {P31i_was_modified_by};
\node[lab] (lbF) at (491,756) {P70i_is_documented_in};
%% ---- all connector lines, below the nodes
\begin{pgfonlayer}{edges}
\fill[white] (0,0) rectangle (2363,1673);
\edgelist
\draw[lnk,-] (dSt.east) -- (dq1) -- (dq2) -- (dq3);
\draw[lnk] (bm.140) |- (aURL.-53 |- 0,755) -- (aURL.-53);
\draw[lnk] (bm.150) |- (aURL.south |- 0,750) -- (aURL.south);
\draw[lnk] (bm.168) -- (eBib.-20);
\draw[lnk] (hA2.west) |- (1502,788) -- (1468,778) -- (1379,778) -- (1379,787) -- (1370,787) -- (1370,794) -- (bm.east);
\draw[lnk] (hA2.240) |- (1483,815) -- (1483,818) -- (1380,818) -- (1380,803) -- (1370,803) -- (1370,794) -- (bm.east);
\draw[lnk] (bm.-11) |- (hPI.232 |- 0,835) -- (hPI.232);
\draw[lnk] (bm.-11) |- (hPI.255 |- 0,848) -- (hPI.255);
\draw[lnk,rounded corners=12pt] (bm.-11) |- (mMd.west);
\end{pgfonlayer}
%% ---- section captions
\begin{pgfonlayer}{wm}
\node[wmk] (w1) at (684,307) {Biographic};
\node[wmk] (w2) at (1885,104) {Collection};
\node[wmk] (w3) at (1882,232) {\&};
\node[wmk] (w4) at (1888,361) {Rights};
\node[wmk] (w5) at (1887,596) {Material};
\node[wmk] (w6) at (1435,318) {Inscription};
\node[wmk,font=\fontsize{132}{132}\selectfont\bfseries] (w7) at (484,781) {Bibliographic};
\node[wmk] (w8) at (1258,674) {Events};
\node[wmk] (w9) at (997,931) {Title};
\node[wmk] (w10) at (1245,989) {Subject};
\node[wmk] (w11) at (1785,1224) {Dimension};
\node[wmk] (w12) at (2079,883) {Acquisition};
\node[wmk] (w13) at (950,1336) {Production};
\node[wmk,font=\fontsize{52}{52}\selectfont] (w14) at (2100,1379) {Modification};
\node[wmk] (w15) at (2007,1475) {Visual};
\node[wmk] (w16) at (2012,1604) {Representation};
\end{pgfonlayer}
\end{tikzpicture}
\end{document}
